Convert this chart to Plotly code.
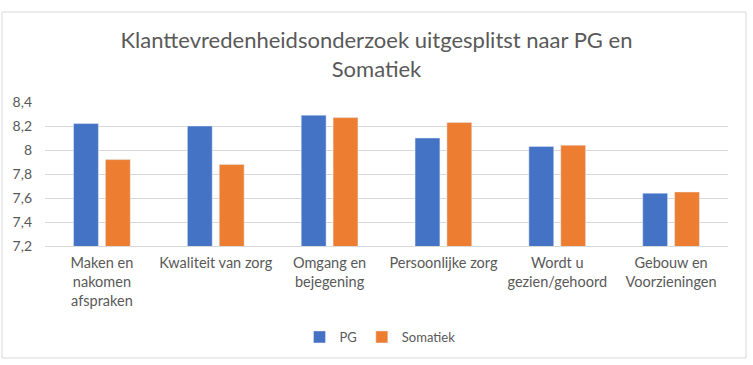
import plotly.graph_objects as go

categories = ["Maken en<br>nakomen<br>afspraken", "Kwaliteit van zorg", "Omgang en<br>bejegening",
              "Persoonlijke zorg", "Wordt u<br>gezien/gehoord", "Gebouw en<br>Voorzieningen"]
pg = [8.22, 8.20, 8.29, 8.10, 8.03, 7.64]
somatiek = [7.92, 7.88, 8.27, 8.23, 8.04, 7.65]
tick_vals = [7.2, 7.4, 7.6, 7.8, 8.0, 8.2, 8.4]
tick_text = ["7,2", "7,4", "7,6", "7,8", "8", "8,2", "8,4"]

FONT = "Lato"
TXT = "#595959"

fig = go.Figure()
fig.add_trace(go.Bar(name="PG", x=categories, y=pg, marker_color="#4472C4"))
fig.add_trace(go.Bar(name="Somatiek", x=categories, y=somatiek, marker_color="#ED7D31"))

W, H = 753, 365
L, R, T, B = 45, 25, 102, 119
pw, ph = W - L - R, H - T - B

def px(x):
    return (x - L) / pw

def py(y):
    return (H - B - y) / ph

fig.update_layout(
    width=W, height=H,
    margin=dict(l=L, r=R, t=T, b=B, autoexpand=False),
    paper_bgcolor="white", plot_bgcolor="white",
    barmode="group", bargap=0.44, bargroupgap=0.22,
    font=dict(family=FONT, color=TXT, size=14),
    title=dict(text="Klanttevredenheidsonderzoek uitgesplitst naar PG en<br>Somatiek",
               x=0.5, xanchor="center", y=1 - 48 / H, yanchor="top",
               font=dict(family=FONT, size=22, color=TXT)),
    showlegend=True,
    legend=dict(orientation="h", x=px(380), xanchor="center", y=py(337), yanchor="middle",
                font=dict(family=FONT, size=13, color=TXT), traceorder="normal",
                itemwidth=30),
    xaxis=dict(showgrid=False, showline=True, linecolor="#D9D9D9", ticks="",
               tickfont=dict(family=FONT, size=14.5, color=TXT), ticklabelstandoff=4),
    yaxis=dict(range=[7.2, 8.4], tickvals=tick_vals, ticktext=tick_text, showgrid=True,
               gridcolor="#D9D9D9", zeroline=False, showline=False, ticks="",
               tickfont=dict(family=FONT, size=14, color=TXT), ticklabelstandoff=12),
    shapes=[dict(type="rect", xref="paper", yref="paper",
                 x0=px(2), x1=px(746), y0=py(358), y1=py(12),
                 line=dict(color="#D9D9D9", width=1), fillcolor="rgba(0,0,0,0)", layer="below")],
)

fig.write_html("out.html", config={"displayModeBar": False},
               post_script="document.body.style.margin='0';")
